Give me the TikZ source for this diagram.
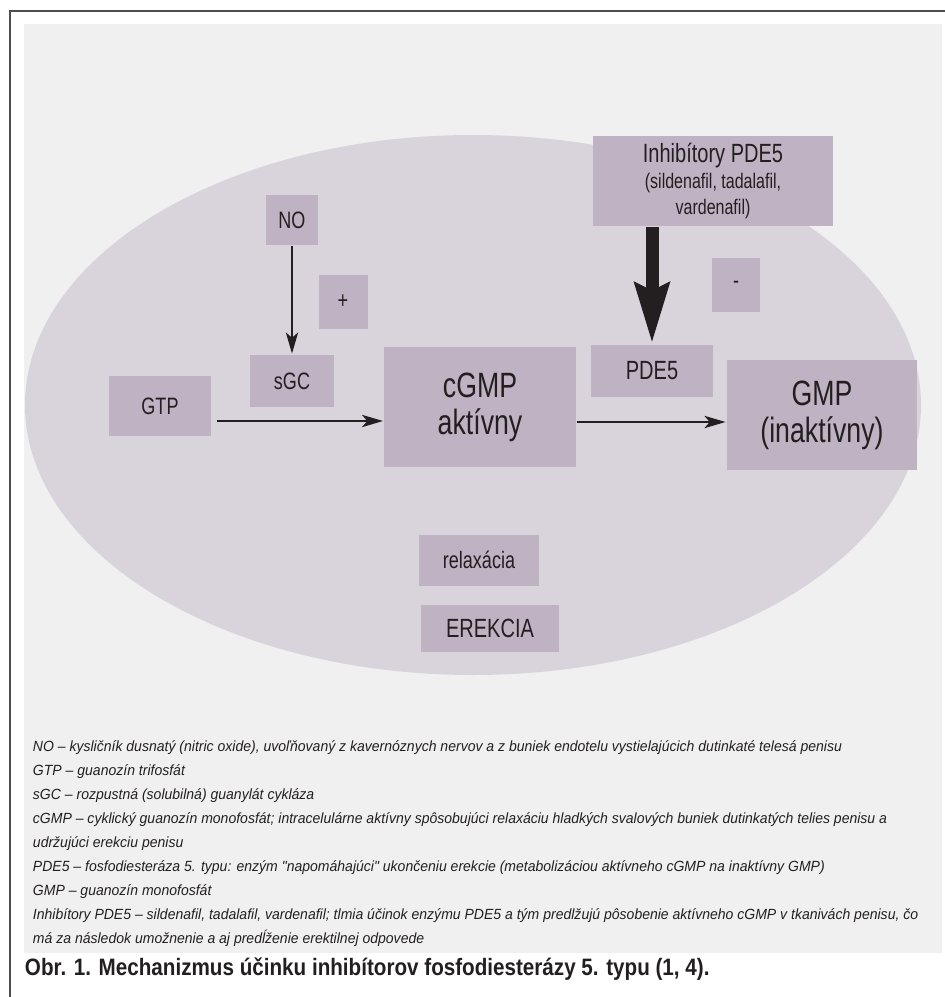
\documentclass[tikz,border=0pt]{standalone}
\usepackage{fontspec}
\setmainfont{Liberation Sans}[FakeStretch=0.76]
\newfontfamily\legfont{Liberation Sans}[FakeStretch=0.95]
\newfontfamily\capfont{Liberation Sans}[FakeStretch=0.87]
\usetikzlibrary{arrows.meta,positioning,calc}
\definecolor{frameline}{RGB}{77,77,77}
\definecolor{panel}{RGB}{240,240,240}
\definecolor{cellfill}{RGB}{217,211,220}
\definecolor{boxfill}{RGB}{191,178,195}
\definecolor{ink}{RGB}{35,31,32}
\tikzset{
  flow/.style={>={Stealth[length=12pt,width=7pt,inset=3pt]},line width=1.1pt,draw=ink},
  blk/.style={fill=boxfill,text=ink,align=center,inner sep=2pt,
    font=\fontsize{13.5}{16}\selectfont},
  big/.style={blk,font=\fontsize{20}{21}\selectfont},
  bigarrow/.style={line width=7.4pt,draw=ink,-{Stealth[length=34pt,width=19pt,inset=4pt]}},
  frame/.style={draw=frameline,line width=1.2pt},
  legend/.style={anchor=north west,align=left,text=ink,inner sep=0pt,
    font=\legfont\itshape\fontsize{8.4}{13.6}\selectfont},
  caption/.style={anchor=base west,text=ink,inner sep=0pt,
    font=\capfont\bfseries\fontsize{13.5}{16}\selectfont},
}
\begin{document}
\begin{tikzpicture}[x=0.02cm,y=-0.02cm,flow]
\useasboundingbox (0,0) rectangle (945,997);
\fill[white] (0,0) rectangle (945,997);
\draw[frame] (945,11) -- (10,11) -- (10,997);
\fill[panel] (24,24) rectangle (942,953);
\fill[cellfill] (473,405) ellipse [x radius=448, y radius=270];

\node[blk,minimum width=1.06cm,minimum height=1.02cm] (no) at (292,220) {NO};
\node[blk,minimum width=0.98cm,minimum height=1.08cm] (plus) at (343,302) {+};
\node[blk,minimum width=1.70cm,minimum height=1.06cm] (sgc) at (292,381) {sGC};
\node[blk,minimum width=2.06cm,minimum height=1.22cm] (gtp) at (160,406) {GTP};
\node[big,minimum width=3.84cm,minimum height=2.40cm] (cgmp) at (480,407) {cGMP\\aktívny};
\node[blk,font=\fontsize{15}{17}\selectfont,minimum width=2.44cm,minimum height=1.06cm] (pde) at (652,371) {PDE5};
\node[blk,minimum width=0.96cm,minimum height=1.08cm] (minus) at (736,285) {-};
\node[blk,font=\fontsize{12}{15}\selectfont,minimum width=4.80cm,minimum height=1.80cm] (inhib) at (713,181) {{\fontsize{15}{17}\selectfont Inhibítory PDE5}\\(sildenafil, tadalafil,\\vardenafil)};
\node[big,minimum width=3.82cm,minimum height=2.20cm] (gmp) at (822,415) {GMP\\(inaktívny)};
\node[blk,minimum width=2.40cm,minimum height=1.02cm] (relax) at (479,560) {relaxácia};
\node[blk,font=\fontsize{15}{17}\selectfont,minimum width=2.76cm,minimum height=0.94cm] (erekcia) at (490,628) {EREKCIA};

\coordinate (gtpout) at ($(gtp.east)+(5,15)$);
\coordinate (cgmpout) at ($(cgmp.east)+(0,15)$);
\draw[->] (no) -- (sgc);
\draw[->] (gtpout) -- (gtpout -| cgmp.west);
\draw[->] (cgmpout) -- (cgmpout -| gmp.west);
\draw[bigarrow] (inhib.south -| pde.north) -- (pde.north);

\node[legend] (leg) at (32,740) {NO – kysličník dusnatý (nitric oxide), uvoľňovaný z kavernóznych nervov a z buniek endotelu vystielajúcich dutinkaté telesá penisu\\
GTP – guanozín trifosfát\\
sGC – rozpustná (solubilná) guanylát cykláza\\
cGMP – cyklický guanozín monofosfát; intracelulárne aktívny spôsobujúci relaxáciu hladkých svalových buniek dutinkatých telies penisu a\\
udržujúci erekciu penisu\\
PDE5 – fosfodiesteráza 5. typu: enzým "napomáhajúci" ukončeniu erekcie (metabolizáciou aktívneho cGMP na inaktívny GMP)\\
GMP – guanozín monofosfát\\
Inhibítory PDE5 – sildenafil, tadalafil, vardenafil; tlmia účinok enzýmu PDE5 a tým predlžujú pôsobenie aktívneho cGMP v tkanivách penisu, čo\\
má za následok umožnenie a aj predĺženie erektilnej odpovede};
\node[caption] (cap) at (24,975) {Obr. 1. Mechanizmus účinku inhibítorov fosfodiesterázy 5. typu (1, 4).};
\end{tikzpicture}
\end{document}
